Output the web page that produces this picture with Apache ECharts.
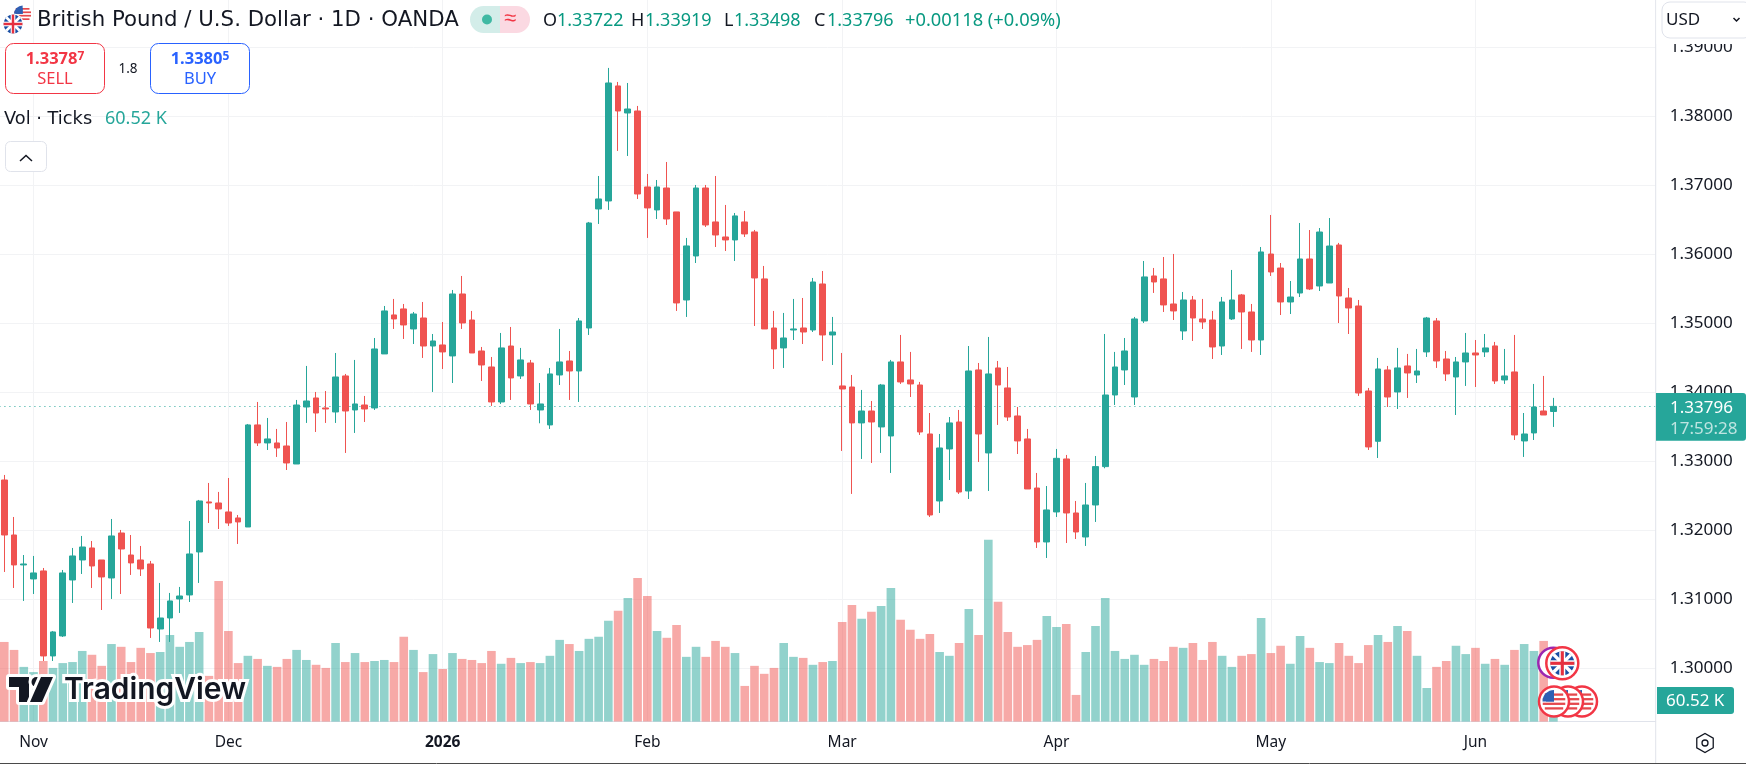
<!DOCTYPE html>
<html>
<head>
<meta charset="utf-8">
<title>GBP/USD</title>
<style>html,body{margin:0;padding:0;background:#fff;overflow:hidden}#main{width:1746px;height:764px}</style>
<script src="https://cdn.jsdelivr.net/npm/echarts@6/dist/echarts.min.js"></script>
</head>
<body>
<div id="main"></div>
<script>
const categories = [
'2025-10-29','2025-10-30','2025-10-31',
'2025-11-03','2025-11-04','2025-11-05','2025-11-06','2025-11-07','2025-11-10','2025-11-11','2025-11-12','2025-11-13','2025-11-14','2025-11-17','2025-11-18','2025-11-19','2025-11-20','2025-11-21','2025-11-24','2025-11-25','2025-11-26','2025-11-27','2025-11-28',
'2025-12-01','2025-12-02','2025-12-03','2025-12-04','2025-12-05','2025-12-08','2025-12-09','2025-12-10','2025-12-11','2025-12-12','2025-12-15','2025-12-16','2025-12-17','2025-12-18','2025-12-19','2025-12-22','2025-12-23','2025-12-24','2025-12-26','2025-12-29','2025-12-30','2025-12-31',
'2026-01-02','2026-01-05','2026-01-06','2026-01-07','2026-01-08','2026-01-09','2026-01-12','2026-01-13','2026-01-14','2026-01-15','2026-01-16','2026-01-19','2026-01-20','2026-01-21','2026-01-22','2026-01-23','2026-01-26','2026-01-27','2026-01-28','2026-01-29','2026-01-30',
'2026-02-02','2026-02-03','2026-02-04','2026-02-05','2026-02-06','2026-02-09','2026-02-10','2026-02-11','2026-02-12','2026-02-13','2026-02-16','2026-02-17','2026-02-18','2026-02-19','2026-02-20','2026-02-23','2026-02-24','2026-02-25','2026-02-26','2026-02-27',
'2026-03-02','2026-03-03','2026-03-04','2026-03-05','2026-03-06','2026-03-09','2026-03-10','2026-03-11','2026-03-12','2026-03-13','2026-03-16','2026-03-17','2026-03-18','2026-03-19','2026-03-20','2026-03-23','2026-03-24','2026-03-25','2026-03-26','2026-03-27','2026-03-30','2026-03-31',
'2026-04-01','2026-04-02','2026-04-03','2026-04-06','2026-04-07','2026-04-08','2026-04-09','2026-04-10','2026-04-13','2026-04-14','2026-04-15','2026-04-16','2026-04-17','2026-04-20','2026-04-21','2026-04-22','2026-04-23','2026-04-24','2026-04-27','2026-04-28','2026-04-29','2026-04-30',
'2026-05-01','2026-05-04','2026-05-05','2026-05-06','2026-05-07','2026-05-08','2026-05-11','2026-05-12','2026-05-13','2026-05-14','2026-05-15','2026-05-18','2026-05-19','2026-05-20','2026-05-21','2026-05-22','2026-05-25','2026-05-26','2026-05-27','2026-05-28','2026-05-29',
'2026-06-01','2026-06-02','2026-06-03','2026-06-04','2026-06-05','2026-06-08','2026-06-09','2026-06-10','2026-06-11',
'2026-06-12','2026-06-15','2026-06-16','2026-06-17','2026-06-18','2026-06-19','2026-06-22','2026-06-23','2026-06-24','2026-06-25'];
const tickIndexes = [3,23,45,66,86,108,130,151];
const tickLabels = ['Nov','Dec','2026','Feb','Mar','Apr','May','Jun'];
const opens = [
1.32729,1.31932,1.31498,1.31295,1.31411,1.30179,1.30469,1.3128,1.3157,1.31744,
1.3157,1.31309,1.31961,1.31642,1.3157,1.31512,1.3057,1.30729,1.31005,1.31063,
1.31686,1.32411,1.32396,1.32266,1.32179,1.32048,1.33527,1.33266,1.33266,1.33222,
1.32961,1.33787,1.33918,1.33773,1.33715,1.34237,1.33744,1.33816,1.33773,1.34556,
1.35121,1.35208,1.34918,1.35077,1.34671,1.34686,1.34527,1.35425,1.35048,1.34599,
1.34367,1.3386,1.34671,1.34237,1.34425,1.33744,1.33527,1.34251,1.34454,1.34309,
1.34932,1.36657,1.36773,1.3844,1.38048,1.38077,1.36976,1.36643,1.36961,1.36614,
1.35338,1.35976,1.36961,1.36469,1.36251,1.36208,1.36469,1.36324,1.35643,1.34932,
1.34643,1.34903,1.34932,1.34903,1.3557,1.34831,1.34092,1.34077,1.33556,1.33729,
1.33498,1.33367,1.3444,1.34179,1.34106,1.33396,1.32425,1.33179,1.3357,1.3257,
1.34324,1.33121,1.34353,1.34063,1.33657,1.33324,1.32613,1.31831,1.32266,1.33034,
1.32251,1.31903,1.32367,1.32923,1.33961,1.34324,1.33932,1.35034,1.35686,1.35643,
1.3528,1.34889,1.35338,1.35063,1.35048,1.34671,1.35063,1.35411,1.35164,1.34758,
1.36004,1.35801,1.35309,1.35439,1.35932,1.35541,1.35584,1.36135,1.35367,1.35251,
1.34019,1.3329,1.34324,1.34005,1.34382,1.34251,1.34585,1.35034,1.34483,1.34222,
1.3444,1.3457,1.34585,1.34672,1.34179,1.34295,1.33295,1.33411,1.33729,1.33722];
const closes = [
1.31932,1.31498,1.31512,1.31382,1.30179,1.30527,1.31382,1.31628,1.31758,1.31483,
1.31324,1.31918,1.31729,1.31527,1.3144,1.30584,1.30729,1.30976,1.31048,1.31657,
1.32425,1.32396,1.32309,1.32106,1.32121,1.33527,1.33266,1.33324,1.33193,1.32976,
1.33816,1.33874,1.337,1.33758,1.34222,1.33729,1.33831,1.33758,1.34628,1.35179,
1.35063,1.34976,1.35135,1.34671,1.34744,1.34585,1.35425,1.35005,1.3457,1.34396,
1.3386,1.34643,1.34208,1.34469,1.33831,1.33831,1.34266,1.3444,1.34309,1.35034,
1.36454,1.36802,1.38483,1.38077,1.38106,1.36874,1.36672,1.36976,1.36512,1.35295,
1.36121,1.36961,1.36425,1.3628,1.36208,1.36556,1.36295,1.35657,1.34918,1.34628,
1.34787,1.34918,1.34874,1.35599,1.34831,1.34874,1.34048,1.33556,1.33729,1.3357,
1.34106,1.3444,1.3415,1.34121,1.33425,1.32222,1.33193,1.33556,1.32555,1.34309,
1.33396,1.34266,1.34106,1.33642,1.33295,1.32599,1.31831,1.32295,1.33043,1.32251,
1.31976,1.32367,1.32923,1.33961,1.34367,1.34599,1.35063,1.35672,1.35599,1.35266,
1.35179,1.35338,1.35077,1.35019,1.34657,1.35309,1.35338,1.35164,1.34758,1.36034,
1.35744,1.35309,1.35381,1.35932,1.35497,1.36323,1.3612,1.35396,1.35222,1.3399,
1.33208,1.34338,1.33932,1.34353,1.3428,1.34309,1.35077,1.34454,1.34266,1.3444,
1.3457,1.34541,1.34643,1.34164,1.34237,1.33382,1.33396,1.33787,1.33671,1.33796];
const lows = [
1.31396,1.31164,1.30976,1.31077,1.30106,1.30106,1.30454,1.30947,1.31367,1.31164,
1.30845,1.31005,1.31077,1.31353,1.31338,1.3044,1.30382,1.30382,1.30802,1.30961,
1.31237,1.32106,1.32019,1.32063,1.31802,1.32048,1.33222,1.33164,1.33063,1.32874,
1.32961,1.33556,1.33425,1.33556,1.33556,1.33121,1.33411,1.3357,1.33744,1.34556,
1.34918,1.34773,1.347,1.34498,1.34005,1.34338,1.34135,1.34918,1.3457,1.34164,
1.33802,1.33831,1.33889,1.34193,1.33744,1.33551,1.33469,1.34106,1.33889,1.3386,
1.34831,1.3644,1.36643,1.37498,1.37425,1.36802,1.36237,1.36512,1.36425,1.35179,
1.35092,1.35874,1.36396,1.36106,1.36048,1.35903,1.36251,1.34961,1.34918,1.34338,
1.34353,1.34758,1.347,1.34874,1.34454,1.34396,1.3315,1.32527,1.33034,1.32976,
1.33121,1.32831,1.34121,1.33932,1.33382,1.32193,1.32251,1.32729,1.32527,1.32454,
1.3299,1.3257,1.33527,1.33585,1.33106,1.32599,1.31744,1.31599,1.32193,1.31816,
1.31874,1.31773,1.32121,1.32899,1.33816,1.34106,1.33816,1.35005,1.3544,1.35164,
1.35048,1.34758,1.34744,1.34918,1.34483,1.34541,1.35048,1.34628,1.34585,1.34541,
1.35686,1.3512,1.35135,1.35381,1.35482,1.35468,1.35584,1.35004,1.34845,1.33947,
1.33164,1.33048,1.33787,1.33758,1.33918,1.34135,1.34512,1.34353,1.34164,1.33671,
1.34092,1.34077,1.34512,1.34121,1.34121,1.33309,1.33063,1.33309,1.33671,1.33498];
const highs = [
1.32802,1.32193,1.31642,1.31628,1.31454,1.30541,1.31425,1.31744,1.31918,1.31845,
1.3157,1.32164,1.32005,1.31932,1.31773,1.31556,1.31237,1.31092,1.31179,1.32135,
1.3244,1.32686,1.32556,1.32758,1.32222,1.33541,1.3386,1.33628,1.33469,1.3357,
1.33889,1.34382,1.34005,1.34019,1.3457,1.34266,1.34469,1.33947,1.34787,1.35251,
1.35353,1.3528,1.35164,1.35309,1.34845,1.35019,1.35483,1.35686,1.35179,1.34657,
1.34512,1.3486,1.34947,1.34643,1.34469,1.34135,1.34353,1.34918,1.34599,1.35077,
1.36469,1.37135,1.38701,1.38498,1.38483,1.3815,1.37164,1.37077,1.37338,1.36614,
1.36237,1.37005,1.37005,1.37135,1.36715,1.36599,1.36628,1.36353,1.35831,1.35179,
1.3515,1.35353,1.35367,1.35657,1.35758,1.35092,1.3457,1.34251,1.34034,1.33874,
1.34121,1.34469,1.34831,1.34585,1.3415,1.337,1.33396,1.33642,1.33744,1.34671,
1.34425,1.34802,1.34454,1.34367,1.33787,1.33469,1.32831,1.32642,1.33179,1.33092,
1.32425,1.32686,1.33077,1.34845,1.34585,1.34787,1.35092,1.35903,1.35802,1.35961,
1.36005,1.35454,1.35396,1.35353,1.35179,1.35382,1.35773,1.35425,1.3528,1.36106,
1.3657,1.35874,1.35613,1.36454,1.36352,1.36381,1.36526,1.36165,1.35512,1.35338,
1.34063,1.34498,1.34382,1.34643,1.34556,1.34628,1.35092,1.35077,1.34599,1.34512,
1.3486,1.34758,1.34845,1.3473,1.34628,1.34831,1.337,1.34121,1.34237,1.33919];
const volumes = [
230,207,158,143,175,155,169,172,204,193,
161,224,216,172,213,198,201,250,216,230,
259,132,406,262,169,190,181,161,158,181,
207,178,164,155,227,172,198,172,175,178,
172,245,207,143,195,152,198,181,178,169,
204,167,184,169,172,169,190,236,224,204,
239,245,291,320,357,415,363,262,242,279,
187,216,187,233,216,198,103,161,138,155,
227,187,184,164,172,175,288,337,297,317,
334,386,294,265,239,253,201,190,227,325,
250,525,346,259,216,221,236,305,273,282,
77,201,276,357,204,181,193,164,181,175,
216,213,227,178,230,190,158,190,195,299,
198,219,167,247,213,172,169,227,190,169,
221,250,230,276,262,190,97,158,175,219,
195,213,167,181,164,207,224,204,233,60.52];
const priceTicksMin = 1.29, priceTicksMax = 1.40;

const UP = '#26a69a', DOWN = '#ef5350', GRID = '#f2f3f5', AXIS = '#e0e3eb', INK = '#131722';
const FONT = '"Noto Sans",sans-serif';
const WIDE = '"DejaVu Sans",sans-serif';

function T(x, y, text, fs, fill, extra, fam) {
  return { type:'text', x, y, z:20, silent:true,
    style:Object.assign({ text, font:`${fs}px ${fam||FONT}`, fill, textVerticalAlign:'middle', textAlign:'left' }, extra||{}) };
}
function box(x,y,w,h,r,fill,stroke,lw,z){
  return { type:'rect', z:z||15, silent:true, shape:{x,y,width:w,height:h,r:r}, style:{fill,stroke,lineWidth:lw||1} };
}
function seg(x1,y1,x2,y2,color,w,z){
  return { type:'line', z:z||20, silent:true, shape:{x1,y1,x2,y2}, style:{stroke:color,lineWidth:w||1} };
}
function circ(cx,cy,r,fill,stroke,lw,z){
  return { type:'circle', z:z||20, silent:true, shape:{cx,cy,r}, style:{fill,stroke,lineWidth:lw||0} };
}
function ukFlag(cx,cy,r,z){
  const d=r*0.72, s=[];
  s.push(circ(cx,cy,r,'#1a4fa3',null,0,z));
  s.push(seg(cx-d,cy-d,cx+d,cy+d,'#fff',r*0.28,z+0.1));
  s.push(seg(cx-d,cy+d,cx+d,cy-d,'#fff',r*0.28,z+0.1));
  s.push(seg(cx-r,cy,cx+r,cy,'#fff',r*0.5,z+0.2));
  s.push(seg(cx,cy-r,cx,cy+r,'#fff',r*0.5,z+0.2));
  s.push(seg(cx-r,cy,cx+r,cy,'#e5303f',r*0.26,z+0.3));
  s.push(seg(cx,cy-r,cx,cy+r,'#e5303f',r*0.26,z+0.3));
  return s;
}
function usFlag(cx,cy,r,z){
  const s=[circ(cx,cy,r,'#fff',null,0,z)];
  const off=[-0.6,-0.2,0.2,0.6];
  off.forEach(k=>{
    const h=Math.sqrt(Math.max(0,1-k*k))*r;
    s.push(seg(cx-h,cy+k*r,cx+h,cy+k*r,'#e5484d',r*0.2,z+0.1));
  });
  s.push({type:'sector',z:z+0.2,silent:true,shape:{cx,cy,r0:0,r:r,startAngle:Math.PI,endAngle:Math.PI*1.5},style:{fill:'#2f5fb3'}});
  s.push({type:'rect',z:z+0.2,silent:true,shape:{x:cx-r*0.7,y:cy-r*0.7,width:r*0.7,height:r*0.7},style:{fill:'#2f5fb3'}});
  return s;
}

const g = [];
// white strip over the clipped top tick label + USD button
g.push(box(1656.5,0,89.5,44,0,'#fff',null,0,12));
g.push(box(1662,2,90,36,8,'#fff','#e0e3eb',1,13));
g.push(T(1666,20,'USD',17,INK));
g.push({type:'polyline',z:20,silent:true,shape:{points:[[1733.5,18],[1736.5,21],[1739.5,18]]},style:{stroke:INK,lineWidth:1.5,fill:null}});

// right axis line and bottom edge
g.push(seg(1655.7,0,1655.7,764,AXIS,1,11));
g.push(seg(0,763.5,1746,763.5,'#4a4a4a',1,11));

// header flags
g.push(circ(22.6,14,9.6,'#fff',null,0,18));
g.push(...usFlag(22.6,14,8.6,18.2));
g.push(circ(13,24,10.6,'#fff',null,0,19));
g.push(...ukFlag(13,24,9.4,19.2));
// title
g.push(T(37,20.5,'British Pound / U.S. Dollar · 1D · OANDA',21.3,INK,null,WIDE));
// status pill
g.push(box(470,6,30,27,[13.5,0,0,13.5],'#d3ede9',null,0,15));
g.push(box(500,6,30,27,[0,13.5,13.5,0],'#fbd9e2',null,0,15));
g.push(circ(487,19.5,5,'#3fb9a3',null,0,20));
g.push(T(504,19,'≈',22,'#f23645'));
// OHLC
[['O','1.33722'],['H','1.33919'],['L','1.33498'],['C','1.33796']].forEach(([a,b],i)=>{
  const xs=[543,631,724,814];
  const off=[14,14,10,13];
  g.push(T(xs[i],21,a,18,INK));
  g.push(T(xs[i]+off[i],21,b,18,'#089981'));
});
g.push(T(905,21,'+0.00118 (+0.09%)',18.3,'#089981'));
// sell/buy
g.push(box(5.5,43.5,99,50,8,'#fff','#f23645',1,15));
g.push({type:'text',z:20,silent:true,x:55,y:59,style:{rich:{a:{font:`bold 16.5px ${FONT}`,fill:'#f23645'},b:{font:`bold 12px ${FONT}`,fill:'#f23645',verticalAlign:'top'}},text:'{a|1.3378}{b|7}',textAlign:'center',textVerticalAlign:'middle'}});
g.push(T(55,79,'SELL',16.5,'#f23645',{textAlign:'center'}));
g.push(T(128,69,'1.8',13.5,INK,{textAlign:'center'}));
g.push(box(150.5,43.5,99,50,8,'#fff','#2962ff',1,15));
g.push({type:'text',z:20,silent:true,x:200,y:59,style:{rich:{a:{font:`bold 16.5px ${FONT}`,fill:'#2962ff'},b:{font:`bold 12px ${FONT}`,fill:'#2962ff',verticalAlign:'top'}},text:'{a|1.3380}{b|5}',textAlign:'center',textVerticalAlign:'middle'}});
g.push(T(200,79,'BUY',16.5,'#2962ff',{textAlign:'center'}));
// vol legend
g.push(T(4,119,'Vol · Ticks',17.8,INK,null,WIDE));
g.push(T(105,119,'60.52 K',18,UP,null,FONT));
// collapse button
g.push(box(5.5,141.5,41,30,5,'#fff','#e0e3eb',1,15));
g.push({type:'polyline',z:20,silent:true,shape:{points:[[20,161],[26,155.5],[32,161]]},style:{stroke:INK,lineWidth:1.5,fill:null}});
// price badges
g.push(box(1656,393,90,47.7,[0,3,3,0],UP,null,0,15));
g.push(T(1670,408,'1.33796',17,'#fff'));
g.push(T(1670,429,'17:59:28',17,'rgba(255,255,255,0.7)'));
g.push(box(1657,687,77,27,[0,3,3,0],UP,null,0,15));
g.push(T(1666,701,'60.52 K',17,'#fff'));
// gear
const hex=[];for(let i=0;i<6;i++){const a=Math.PI/3*i+Math.PI/6;hex.push([1705+9.5*Math.cos(a),743+9.5*Math.sin(a)]);}
g.push({type:'polygon',z:20,silent:true,shape:{points:hex},style:{fill:null,stroke:INK,lineWidth:1.3}});
g.push(circ(1705,743,3,'#fff',INK,1.3,20));
// event icons
g.push(circ(1553.3,662.7,15,'#fff','#9c27b0',2.5,16));
g.push(circ(1562.3,663.3,16,'#fff','#f23645',2.5,17));
g.push(...ukFlag(1562.3,663.3,12,17.2));
g.push(circ(1582,701.5,15,'#fff','#f23645',2.5,16));
g.push(...usFlag(1582,701.5,11.5,16.2));
g.push(circ(1568,701.5,15,'#fff','#f23645',2.5,17));
g.push(...usFlag(1568,701.5,11.5,17.2));
g.push(circ(1554,701.5,15,'#fff','#f23645',2.5,18));
g.push(...usFlag(1554,701.5,11.5,18.2));
// TradingView logo
const LOGO_Z=14;
const halo={stroke:'#fff',lineWidth:6,fill:'#131722',lineJoin:'round',strokeFirst:true};
g.push({type:'polygon',z:LOGO_Z,silent:true,shape:{points:[[9,677],[29,677],[29,702],[19,702],[19,687],[9,687]]},style:halo});
g.push({type:'circle',z:LOGO_Z,silent:true,shape:{cx:36.5,cy:682,r:5},style:halo});
g.push({type:'polygon',z:LOGO_Z,silent:true,shape:{points:[[41,677],[53,677],[42,702],[30,702]]},style:halo});
g.push({type:'text',z:LOGO_Z,silent:true,x:64,y:690,style:{text:'TradingView',font:'600 29.9px Inter,Roboto,sans-serif',fill:'#131722',stroke:'#fff',lineWidth:6,strokeFirst:true,textVerticalAlign:'middle',textAlign:'left'}});

const candleData = opens.map((o,i)=>[o,closes[i],lows[i],highs[i]]);
const volData = volumes.map((v,i)=>({value:v,itemStyle:{color:closes[i]>=opens[i]?'rgba(38,166,154,0.5)':'rgba(239,83,80,0.5)'}}));

const chart = echarts.init(document.getElementById('main'),null,{renderer:'canvas'});
chart.setOption({
  animation:false,
  backgroundColor:'#fff',
  textStyle:{fontFamily:FONT},
  grid:[
    {left:-0.57,width:1656.27,top:-21.7,height:759,outerBoundsMode:'none'},
    {left:-0.57,width:1656.27,top:0,height:721.6,outerBoundsMode:'none'}
  ],
  xAxis:[
    {type:'category',gridIndex:0,data:categories,show:false,boundaryGap:true},
    {type:'category',gridIndex:1,data:categories,position:'bottom',boundaryGap:true,
      axisLine:{show:true,lineStyle:{color:AXIS,width:1}},
      axisTick:{show:false},
      splitLine:{show:true,alignWithLabel:true,interval:(i)=>tickIndexes.includes(i),lineStyle:{color:GRID,width:1}},
      axisLabel:{show:true,interval:(i)=>tickIndexes.includes(i),margin:13,fontSize:15.5,color:INK,fontFamily:FONT,hideOverlap:false,
        formatter:(v,i)=>{const k=tickIndexes.indexOf(i);if(k<0)return'';const t=tickLabels[k];return t==='2026'?`{y|${t}}`:t;},
        rich:{y:{fontWeight:'bold',fontSize:15.5,color:INK,fontFamily:FONT}}}
    }
  ],
  yAxis:[
    {type:'value',gridIndex:0,position:'right',min:priceTicksMin,max:priceTicksMax,interval:0.01,
      axisLine:{show:false},axisTick:{show:false},
      splitLine:{show:true,showMinLine:false,showMaxLine:false,lineStyle:{color:GRID,width:1}},
      axisLabel:{margin:14,fontSize:17,color:INK,fontFamily:FONT,padding:[3,0,0,0],showMinLabel:false,showMaxLabel:false,formatter:(v)=>v.toFixed(5)}
    },
    {type:'value',gridIndex:1,min:0,max:2084,show:false,splitLine:{show:false}}
  ],
  series:[
    {type:'bar',name:'Vol',xAxisIndex:1,yAxisIndex:1,data:volData,barWidth:8.6,z:1,silent:true},
    {type:'candlestick',name:'GBPUSD',xAxisIndex:0,yAxisIndex:0,data:candleData,barWidth:6.2,z:3,silent:true,
      itemStyle:{color:UP,color0:DOWN,borderColor:UP,borderColor0:DOWN,borderColorDoji:UP,borderWidth:1},
      markLine:{silent:true,symbol:'none',animation:false,precision:5,z:2,label:{show:false},
        lineStyle:{color:UP,width:1,type:[1,4]},data:[{yAxis:closes[closes.length-1]}]}
    }
  ],
  graphic:{elements:g}
});
</script>
</body>
</html>
